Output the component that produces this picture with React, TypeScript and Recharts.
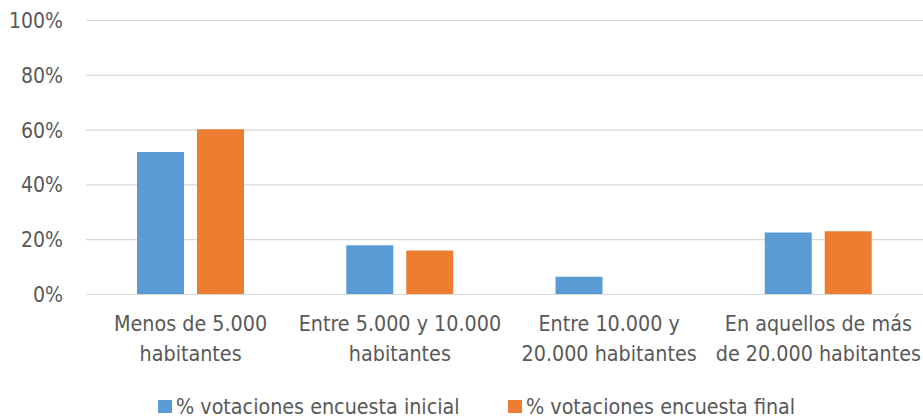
import React from "react";
import { BarChart, Bar, XAxis, YAxis, CartesianGrid, Legend } from "recharts";

const categories = [
  "Menos de 5.000 habitantes",
  "Entre 5.000 y 10.000 habitantes",
  "Entre 10.000 y 20.000 habitantes",
  "En aquellos de más de 20.000 habitantes",
];
const categoryLines: string[][] = [
  ["Menos de 5.000", "habitantes"],
  ["Entre 5.000 y 10.000", "habitantes"],
  ["Entre 10.000 y", "20.000 habitantes"],
  ["En aquellos de más", "de 20.000 habitantes"],
];
const inicial = [0.52, 0.18, 0.065, 0.226];
const final = [0.603, 0.161, 0, 0.231];
const yTicks = [0, 0.2, 0.4, 0.6, 0.8, 1];
const seriesNames = ["% votaciones encuesta inicial", "% votaciones encuesta final"];
const colors = ["#5B9BD5", "#ED7D31"];

const data = categories.map((c, i) => ({ name: c, inicial: inicial[i], final: final[i] }));

const FONT = "'DejaVu Sans Condensed', 'DejaVu Sans', sans-serif";
const TXT = "#595959";

const XTick = (props: any) => {
  const { x, y, index } = props;
  const lines = categoryLines[index] || [];
  return (
    <text x={x} y={y} textAnchor="middle" fill={TXT} fontFamily={FONT} fontSize={21.3}>
      {lines.map((l, i) => (
        <tspan key={i} x={x} dy={i === 0 ? 34 : 30}>{l}</tspan>
      ))}
    </text>
  );
};

const legendLefts = [158, 508];

const LegendContent = () => (
  <div style={{ position: "relative", height: 30, fontFamily: FONT, fontSize: 21.3, color: TXT }}>
    {seriesNames.map((n, i) => (
      <div
        key={i}
        style={{
          position: "absolute",
          left: legendLefts[i],
          top: 7,
          display: "flex",
          alignItems: "center",
          lineHeight: "21px",
          whiteSpace: "nowrap",
        }}
      >
        <span style={{ width: 14, height: 13.5, background: colors[i], display: "inline-block", marginRight: 4 }} />
        <span>{n}</span>
      </div>
    ))}
  </div>
);

export default function App() {
  return (
    <div style={{ position: "absolute", left: 0, top: 0, width: 923, height: 419, background: "#fff" }}>
      <BarChart
        width={923}
        height={419}
        data={data}
        margin={{ top: 20.5, right: 0, bottom: 0, left: 0 }}
        barSize={47}
        barGap={13}
      >
        <CartesianGrid vertical={false} stroke="#D9D9D9" strokeWidth={1.2} />
        <XAxis
          dataKey="name"
          height={94.5}
          interval={0}
          axisLine={{ stroke: "#D9D9D9", strokeWidth: 1.2 }}
          tickLine={false}
          tick={<XTick />}
          tickSize={0}
        />
        <YAxis
          width={86}
          domain={[0, 1]}
          ticks={yTicks}
          tickFormatter={(v: number) => `${Math.round(v * 100)}%`}
          axisLine={false}
          tickLine={false}
          tickSize={0}
          tickMargin={23}
          tick={{ fill: TXT, fontFamily: FONT, fontSize: 21 }}
        />
        <Legend
          verticalAlign="bottom"
          height={30}
          content={<LegendContent />}
          wrapperStyle={{ left: 0, width: 923 }}
        />
        <Bar dataKey="inicial" name={seriesNames[0]} fill={colors[0]} isAnimationActive={false} />
        <Bar dataKey="final" name={seriesNames[1]} fill={colors[1]} isAnimationActive={false} />
      </BarChart>
    </div>
  );
}
